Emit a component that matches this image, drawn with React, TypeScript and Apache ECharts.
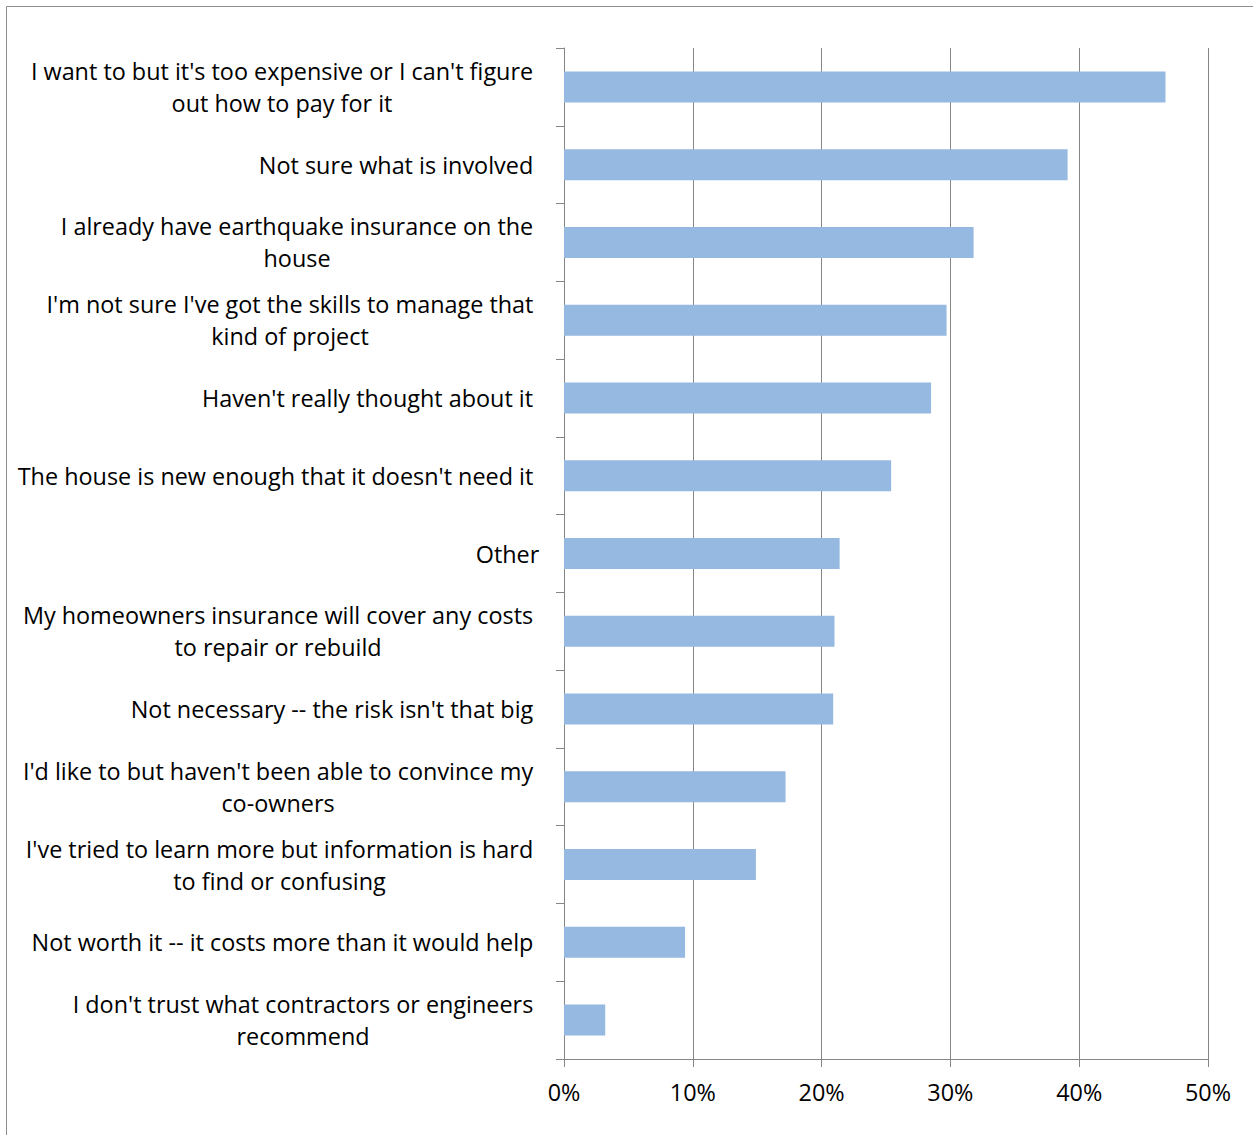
import React, { useEffect, useRef } from 'react';
import * as echarts from 'echarts';

const categories = [
  "I want to but it's too expensive or I can't figure\nout how to pay for it",
  "Not sure what is involved",
  "I already have earthquake insurance on the\nhouse",
  "I'm not sure I've got the skills to manage that\nkind of project",
  "Haven't really thought about it",
  "The house is new enough that it doesn't need it",
  "Other",
  "My homeowners insurance will cover any costs\nto repair or rebuild",
  "Not necessary -- the risk isn't that big",
  "I'd like to but haven't been able to convince my\nco-owners",
  "I've tried to learn more but information is hard\nto find or confusing",
  "Not worth it -- it costs more than it would help",
  "I don't trust what contractors or engineers\nrecommend",
];
const values = [46.7, 39.1, 31.8, 29.7, 28.5, 25.4, 21.4, 21.0, 20.9, 17.2, 14.9, 9.4, 3.2];
const xMin = 0;
const xMax = 50;
const xStep = 10;

const FONT = 'Open Sans';
const FONT_SIZE = 23.4;

export default function App() {
  const ref = useRef<HTMLDivElement>(null);
  useEffect(() => {
    if (!ref.current) return;
    const chart = echarts.init(ref.current, undefined, { renderer: 'svg' });
    const canvas = document.createElement('canvas');
    const ctx = canvas.getContext('2d')!;
    ctx.font = `${FONT_SIZE}px "${FONT}"`;
    const rich: Record<string, any> = {};
    categories.forEach((c, i) => {
      const w = Math.max(...c.split('\n').map((l) => ctx.measureText(l).width));
      rich['l' + i] = {
        width: Math.ceil(w) + 1,
        align: 'center',
        fontFamily: FONT,
        fontSize: FONT_SIZE,
        lineHeight: 32,
        color: '#000',
        padding: c === 'Other' ? [0, 0, 0, 0] : [0, 6, 0, 0],
      };
    });
    chart.setOption({
      animation: false,
      backgroundColor: '#fff',
      graphic: [
        {
          type: 'rect',
          shape: { x: 6.5, y: 6.5, width: 1400, height: 1400 },
          style: { fill: 'none', stroke: '#8c8c8c', lineWidth: 1 },
          silent: true,
        },
      ],
      grid: { left: 564, right: 45, top: 48, bottom: 76, containLabel: false },
      xAxis: {
        type: 'value',
        min: xMin,
        max: xMax,
        interval: xStep,
        axisLine: { show: true, lineStyle: { color: '#868686', width: 1 } },
        axisTick: { show: true, length: 8, lineStyle: { color: '#868686' } },
        splitLine: { show: true, lineStyle: { color: '#868686', width: 1 } },
        axisLabel: {
          formatter: '{value}%',
          fontFamily: FONT,
          fontSize: FONT_SIZE,
          color: '#000',
          margin: 21,
        },
      },
      yAxis: {
        type: 'category',
        inverse: true,
        data: categories,
        axisLine: { show: true, lineStyle: { color: '#868686', width: 1 } },
        axisTick: { show: true, length: 8, alignWithLabel: false, lineStyle: { color: '#868686' } },
        splitLine: { show: false },
        axisLabel: {
          interval: 0,
          margin: 24,
          formatter: (v: string, i: number) =>
            v.split('\n').map((l) => `{l${i}|${l}}`).join('\n'),
          rich,
        },
      },
      series: [
        {
          type: 'bar',
          data: values,
          barWidth: 31,
          itemStyle: { color: '#95B9E0' },
        },
      ],
    });
    return () => chart.dispose();
  }, []);
  return (
    <div
      ref={ref}
      style={{ position: 'fixed', left: 0, top: 0, width: 1253, height: 1135 }}
    />
  );
}
